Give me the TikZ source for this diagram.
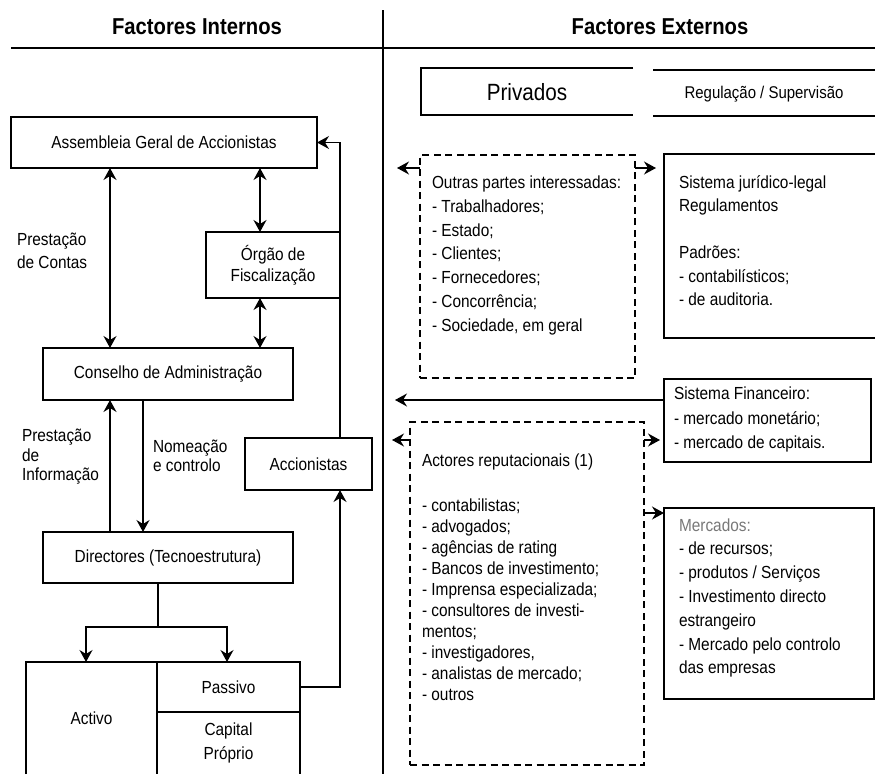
\documentclass[tikz,border=0pt]{standalone}
\usepackage{fontspec}
\setmainfont{Liberation Sans}[FakeStretch=0.88]
\usetikzlibrary{arrows.meta,calc}
\definecolor{softgray}{RGB}{120,120,120}
\begin{document}
\begin{tikzpicture}[x=1pt,y=-1pt,
  every node/.style={inner sep=0pt, outer sep=0pt},
  lbl/.style={font=\fontsize{17.5}{21}\selectfont},
  box/.style={draw, line width=1.2pt, lbl},
  dbox/.style={draw, line width=1.3pt, dash pattern=on 7pt off 4.5pt},
  ln/.style={line width=1.2pt},
  arrowto/.style={ln, -{Stealth[length=12pt,width=13pt,inset=4pt]}},
  arrowboth/.style={ln, {Stealth[length=12pt,width=13pt,inset=4pt]}-{Stealth[length=12pt,width=13pt,inset=4pt]}},
  hdr/.style={font=\bfseries\fontsize{23}{26}\selectfont},
]
\useasboundingbox (0,0) rectangle (875,774);

% headings and frame lines
\node[hdr] (hi) at (197,27) {Factores Internos};
\node[hdr] (he) at (660,27) {Factores Externos};
\draw[ln] (11,48) -- (875,48);
\draw[ln] (383,10) -- (383,774);

% ---------------- internal factors ----------------
\node[box, minimum width=306pt, minimum height=51pt] (ag) at (164,142.5) {Assembleia Geral de Accionistas};
\node[box, align=center, minimum width=134pt, minimum height=66pt, font=\fontsize{17.5}{21}\selectfont] (og) at (273,265) {Órgão de\\Fiscalização};
\node[box, minimum width=250pt, minimum height=52pt] (ca) at (168,374) {Conselho de Administração};
\node[box, minimum width=127pt, minimum height=52pt] (ac) at (308.5,464) {Accionistas};
\node[box, minimum width=250pt, minimum height=51pt] (di) at (168,557.5) {Directores (Tecnoestrutura)};

% balance sheet
\node[lbl, minimum width=131pt, minimum height=112pt] (at) at (91.5,718) {Activo};
\node[lbl, minimum width=143pt, minimum height=50pt] (ps) at (228.5,687) {Passivo};
\node[lbl, align=center, minimum width=143pt, minimum height=62pt, font=\fontsize{17.5}{24}\selectfont] (cp) at (228.5,743) {Capital\\Próprio};
\draw[ln] (at.south west) -- (at.north west) -- (ps.north east) -- (cp.south east);
\draw[ln] (at.north east) -- (at.south east);
\draw[ln] (ps.south west) -- (ps.south east);

% connector columns
\coordinate (xa) at (110,0);
\coordinate (xb) at (260,0);
\coordinate (xc) at (143,0);
\coordinate (xr) at (340,0);
\coordinate (xl) at (86,0);
\coordinate (xp) at (227,0);
\coordinate (sp) at (158,627);

\draw[arrowboth] (ag.south -| xa) -- (ca.north -| xa);
\draw[arrowboth] (ag.south -| xb) -- (og.north -| xb);
\draw[arrowboth] (og.south -| xb) -- (ca.north -| xb);
\draw[arrowto] (di.north -| xa) -- (ca.south -| xa);
\draw[arrowto] (ca.south -| xc) -- (di.north -| xc);
\draw[arrowto] (ac.north -| xr) |- (ag.east);
\draw[arrowto] (ps.east) -| (ac.south -| xr);
\draw[ln] (di.south -| sp) -- (sp);
\draw[arrowto] (sp) -| (at.north -| xl);
\draw[arrowto] (sp) -| (ps.north -| xp);

% side labels
\foreach \yy/\s [count=\i] in {245/Prestação, 268/de Contas}
  \node[lbl, anchor=base west] (pc\i) at (17,\yy) {\s};
\foreach \yy/\s [count=\i] in {441/Prestação, 461/de, 480/Informação}
  \node[lbl, anchor=base west] (pi\i) at (22,\yy) {\s};
\foreach \yy/\s [count=\i] in {452/Nomeação, 471/e controlo}
  \node[lbl, anchor=base west] (nc\i) at (153,\yy) {\s};

% ---------------- external factors ----------------
\node[font=\fontsize{23.5}{26}\selectfont] (pv) at (527,92) {Privados};
\draw[ln] (633,68) -- (421,68) -- (421,115) -- (633,115);
\node[font=\fontsize{17}{20}\selectfont] (rg) at (764,94) {Regulação / Supervisão};
\draw[ln] (653,70) -- (875,70);
\draw[ln] (653,116) -- (875,116);

\node[dbox, minimum width=215pt, minimum height=223pt] (op) at (527.5,266.5) {};
\node[box, minimum width=216pt, minimum height=184pt] (sj) at (772,246) {};
\node[box, minimum width=207pt, minimum height=83pt] (fn) at (767.5,420.5) {};
\node[dbox, minimum width=234pt, minimum height=343pt] (ar) at (527,593.5) {};
\node[box, minimum width=210pt, minimum height=191pt] (mk) at (769,603.5) {};

\coordinate (ol) at (397,168);
\coordinate (fl) at (395,400);
\coordinate (al) at (392,440);
\coordinate (am) at (0,513);
\draw[arrowto] (op.west |- ol) -- (ol);
\draw[arrowto, shorten >=8pt] (op.east |- ol) -- (sj.west |- ol);
\draw[arrowto] (fn.west |- fl) -- (fl);
\draw[arrowto] (ar.west |- al) -- (al);
\draw[arrowto, shorten >=4pt] (ar.east |- al) -- (fn.west |- al);
\draw[arrowto] (ar.east |- am) -- (mk.west |- am);

% box texts
\foreach \yy/\s [count=\i] in {188.5/{Outras partes interessadas:}, 212.3/{- Trabalhadores;}, 236.1/{- Estado;},
  259.9/{- Clientes;}, 283.7/{- Fornecedores;}, 307.5/{- Concorrência;}, 331.3/{- Sociedade, em geral}}
  \node[lbl, anchor=base west] (op\i) at (432,\yy) {\s};
\foreach \yy/\s [count=\i] in {188/{Sistema jurídico-legal}, 211.5/{Regulamentos}, 258.5/{Padrões:},
  282/{- contabilísticos;}, 305.5/{- de auditoria.}}
  \node[lbl, anchor=base west] (sj\i) at (679,\yy) {\s};
\foreach \yy/\s [count=\i] in {399/{Sistema Financeiro:}, 424/{- mercado monetário;}, 448/{- mercado de capitais.}}
  \node[lbl, anchor=base west] (fn\i) at (674,\yy) {\s};
\foreach \yy/\s [count=\i] in {466/{Actores reputacionais (1)}, 511/{- contabilistas;}, 532.1/{- advogados;},
  553.2/{- agências de rating}, 574.3/{- Bancos de investimento;}, 595.4/{- Imprensa especializada;},
  616.5/{- consultores de investi-}, 637.6/{mentos;}, 658.7/{- investigadores,}, 679.8/{- analistas de mercado;},
  700.9/{- outros}}
  \node[lbl, anchor=base west] (ar\i) at (422,\yy) {\s};
\node[lbl, anchor=base west, text=softgray] (mk0) at (679,531) {Mercados:};
\foreach \yy/\s [count=\i] in {554.8/{- de recursos;}, 578.6/{- produtos / Serviços}, 602.4/{- Investimento directo},
  626.2/{estrangeiro}, 650/{- Mercado pelo controlo}, 673.8/{das empresas}}
  \node[lbl, anchor=base west] (mk\i) at (679,\yy) {\s};
\end{tikzpicture}
\end{document}
